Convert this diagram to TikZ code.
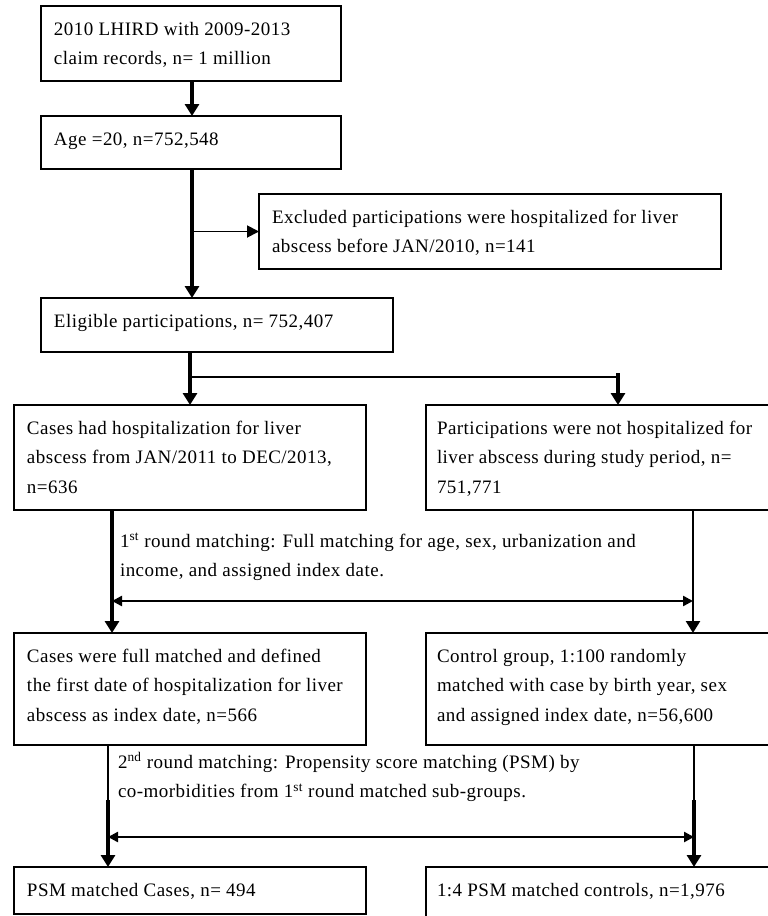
\documentclass[tikz,border=0pt]{standalone}
\usepackage{fontspec}
\setmainfont[LetterSpace=2.5]{Liberation Serif}
\usetikzlibrary{arrows.meta}
\newcommand{\bxt}[4][13pt]{\vbox to #3{\hsize=#2\relax\leftskip=#1\rightskip=0pt plus 1fil\parindent=0pt\parfillskip=0pt plus 1fil\fontsize{19}{29.5}\selectfont\rule{0pt}{29pt}#4\par\vss}}
\newcommand{\lbt}[1]{\vbox{\hsize=640pt\relax\rightskip=0pt plus 1fil\parindent=0pt\parfillskip=0pt plus 1fil\fontsize{19}{29.5}\selectfont\rule{0pt}{29pt}#1\par}}
\begin{document}
\begin{tikzpicture}[x=1pt,y=-1pt,
  box/.style={draw=black, line width=1.6pt, inner sep=0pt, outer sep=0pt, anchor=north west},
  thickarr/.style={line width=3.2pt, -{Triangle[length=12pt,width=14pt]}},
  medarr/.style={line width=2.4pt, -{Triangle[length=12pt,width=14pt]}},
  thinarr/.style={line width=1.9pt, -{Triangle[length=12pt,width=12pt]}},
  thinline/.style={line width=1.8pt},
  darr/.style={line width=2.4pt, {Triangle[length=10pt,width=10pt]}-{Triangle[length=10pt,width=10pt]}},
  lbl/.style={anchor=north west, inner sep=0pt, outer sep=0pt}]
\clip (0,0) rectangle (768,916);
\fill[white] (0,0) rectangle (768,916);

% boxes
\node[box] (b1) at (41,6) {\bxt{300pt}{75pt}{2010 LHIRD with 2009-2013\\claim records, n= 1 million}};
\node[box] (b2) at (41,116) {\bxt{300pt}{53pt}{Age =20, n=752,548}};
\node[box] (excl) at (259,194) {\bxt{462pt}{75pt}{Excluded participations were hospitalized for liver\\abscess before JAN/2010, n=141}};
\node[box] (elig) at (41,298) {\bxt{352pt}{54pt}{Eligible participations, n= 752,407}};
\node[box] (cases) at (14,405) {\bxt{352pt}{105pt}{Cases had hospitalization for liver\\abscess from JAN/2011 to DEC/2013,\\n=636}};
\node[box] (part) at (426,405) {\bxt[11pt]{360pt}{105pt}{Participations were not hospitalized for\\liver abscess during study period, n=\\751,771}};
\node[box] (full) at (14,633) {\bxt{352pt}{112pt}{Cases were full matched and defined\\the first date of hospitalization for liver\\abscess as index date, n=566}};
\node[box] (ctrl) at (426,633) {\bxt[11pt]{360pt}{112pt}{Control group, 1:100 randomly\\matched with case by birth year, sex\\and assigned index date, n=56,600}};
\node[box] (psm) at (14,867) {\bxt{352pt}{47pt}{PSM matched Cases, n= 494}};
\node[box] (psmc) at (426,867) {\bxt[11pt]{360pt}{60pt}{1:4 PSM matched controls, n=1,976}};

% matching labels
\node[lbl] (r1) at (120,518) {\lbt{1\textsuperscript{st} round matching: Full matching for age, sex, urbanization and\\income, and assigned index date.}};
\node[lbl] (r2) at (118,739) {\lbt{2\textsuperscript{nd} round matching: Propensity score matching (PSM) by\\co-morbidities from 1\textsuperscript{st} round matched sub-groups.}};

% coordinates
\coordinate (x1) at (192,0);
\coordinate (x2) at (190,0);
\coordinate (x3) at (618,0);
\coordinate (j2) at (190,377);
\coordinate (j3) at (618,373);
\coordinate (L1) at (112,0);
\coordinate (R1) at (693,0);
\coordinate (m1) at (0,601);
\coordinate (L2) at (108,0);
\coordinate (R2) at (694,0);
\coordinate (s2) at (0,800);
\coordinate (m2) at (0,837);

% connectors
\draw[thickarr] (b1.south -| x1) -- (b2.north -| x1);
\draw[thickarr] (b2.south -| x1) -- (elig.north -| x1);
\draw[thinarr] (excl.west -| x1) -- (excl.west);
\draw[thickarr] (elig.south -| x2) -- (cases.north -| x2);
\draw[thinline] (j2) -- (j2 -| x3);
\draw[thickarr] (j3) -- (part.north -| x3);

\draw[thickarr] (cases.south -| L1) -- (full.north -| L1);
\draw[medarr] (part.south -| R1) -- (ctrl.north -| R1);
\draw[darr] (m1 -| L1) -- (m1 -| R1);

\draw[thinline] (full.south -| L2) -- (s2 -| L2);
\draw[thickarr] (s2 -| L2) -- (psm.north -| L2);
\draw[thinline] (ctrl.south -| R2) -- (s2 -| R2);
\draw[thickarr] (s2 -| R2) -- (psmc.north -| R2);
\draw[darr] (m2 -| L2) -- (m2 -| R2);
\end{tikzpicture}
\end{document}
